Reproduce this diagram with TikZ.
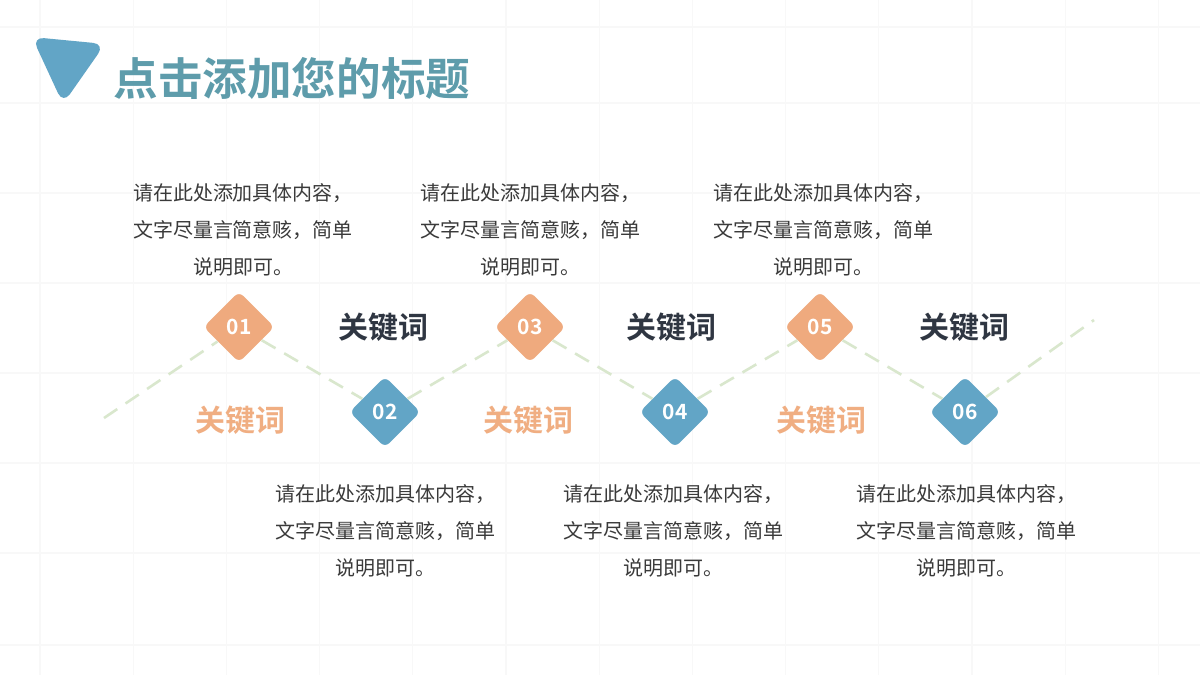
\documentclass[tikz,border=0pt]{standalone}
\usepackage{fontspec}
\setmainfont{Noto Sans CJK SC}[BoldFont={Noto Sans CJK SC Bold}]
\usepackage{xcolor}
\usetikzlibrary{positioning}
\usetikzlibrary{shapes.geometric}
\definecolor{titleteal}{HTML}{5E9CAB}
\definecolor{markblue}{HTML}{62A5C6}
\definecolor{stepor}{HTML}{EFAA7E}
\definecolor{stepbl}{HTML}{62A5C6}
\definecolor{descgray}{HTML}{3A3A3A}
\definecolor{keydark}{HTML}{2F3642}
\definecolor{keyor}{HTML}{F0AE82}
\definecolor{dashgreen}{HTML}{D9E7CD}
\definecolor{gridgray}{HTML}{F8F8F8}

\begin{document}
\begin{tikzpicture}[x=0.5pt,y=-0.5pt,
  stepdia/.style={diamond,aspect=1,minimum size=35.5pt,inner sep=0pt,rounded corners=3pt,text=white,font=\bfseries\fontsize{10.5}{12}\selectfont},
  stepor/.style={stepdia,fill=stepor},
  stepbl/.style={stepdia,fill=stepbl},
  keyword/.style={font=\bfseries\fontsize{15}{18}\selectfont},
  desc/.style={align=center,text=descgray,font=\fontsize{10}{18.5}\selectfont,inner sep=0pt},
  zigzag/.style={draw=dashgreen,line width=1.3pt,dash pattern=on 8pt off 5pt}]
  \useasboundingbox (0,0) rectangle (1200,675);
  \fill[white] (0,0) rectangle (1200,675);
  % faint background grid
  \foreach \i in {0,...,12}
    \draw[gridgray,line width=0.6pt] ({40+93.2*\i},0) -- ({40+93.2*\i},675);
  \foreach \y in {27,103,193,283,373,463,553,645}
    \draw[gridgray,line width=0.6pt] (0,\y) -- (1200,\y);

  % title
  \fill[markblue,rounded corners=6pt] (32,37) -- (105,44) -- (63,104) -- cycle;
  \node[anchor=west,text=titleteal,font=\bfseries\fontsize{22.3}{26}\selectfont,inner sep=0pt] (title) at (113,78) {点击添加您的标题};

  % steps
  \node[stepor] (d1) at (239,327) {01};
  \node[stepbl] (d2) at (385,412) {02};
  \node[stepor] (d3) at (530,327) {03};
  \node[stepbl] (d4) at (675,412) {04};
  \node[stepor] (d5) at (820,327) {05};
  \node[stepbl] (d6) at (965,412) {06};

  \coordinate (zstart) at (104,418);
  \coordinate (zend) at (1094,320);
  \draw[zigzag] (zstart) -- (d1);
  \draw[zigzag] (d1) -- (d2);
  \draw[zigzag] (d2) -- (d3);
  \draw[zigzag] (d3) -- (d4);
  \draw[zigzag] (d4) -- (d5);
  \draw[zigzag] (d5) -- (d6);
  \draw[zigzag] (d6) -- (zend);

  % keywords
  \node[keyword,text=keydark] (k1) at (383,327) {关键词};
  \node[keyword,text=keyor] (k2) at (240,420) {关键词};
  \node[keyword,text=keydark] (k3) at (671,327) {关键词};
  \node[keyword,text=keyor] (k4) at (528,420) {关键词};
  \node[keyword,text=keydark] (k5) at (964,327) {关键词};
  \node[keyword,text=keyor] (k6) at (821,420) {关键词};

  % descriptions
  \node[desc] (t1) at (243,230) {请在此处添加具体内容，\\文字尽量言简意赅，简单\\说明即可。};
  \node[desc] (t2) at (385,531) {请在此处添加具体内容，\\文字尽量言简意赅，简单\\说明即可。};
  \node[desc] (t3) at (530,230) {请在此处添加具体内容，\\文字尽量言简意赅，简单\\说明即可。};
  \node[desc] (t4) at (673,531) {请在此处添加具体内容，\\文字尽量言简意赅，简单\\说明即可。};
  \node[desc] (t5) at (823,230) {请在此处添加具体内容，\\文字尽量言简意赅，简单\\说明即可。};
  \node[desc] (t6) at (966,531) {请在此处添加具体内容，\\文字尽量言简意赅，简单\\说明即可。};
\end{tikzpicture}
\end{document}
